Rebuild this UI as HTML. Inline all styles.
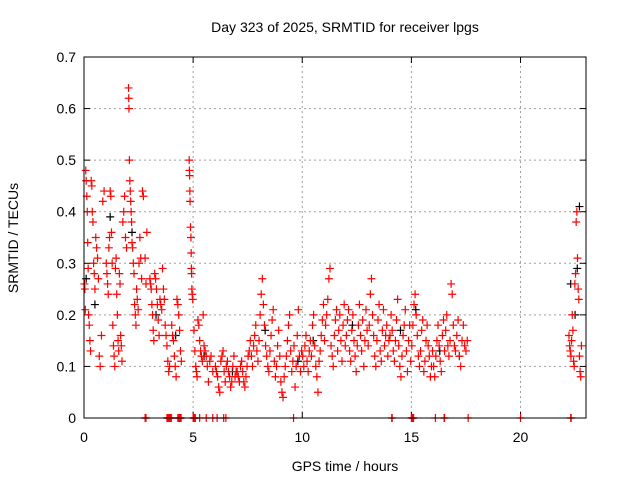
<!DOCTYPE html>
<html><head><meta charset="utf-8"><style>
body{margin:0;background:#fff}
svg{display:block;font-family:"Liberation Sans",sans-serif}
</style></head><body>
<svg id="chart" width="640" height="480" viewBox="0 0 640 480">
<rect width="640" height="480" fill="#fff"/>
<text x="345" y="32" font-size="14" text-anchor="middle">Day 323 of 2025, SRMTID for receiver lpgs</text>
<text x="345" y="471" font-size="14" text-anchor="middle">GPS time / hours</text>
<text x="18" y="238" font-size="14" text-anchor="middle" transform="rotate(-90 18 238)">SRMTID / TECUs</text>
<g id="grid"></g>
<g id="ticks"></g>
<g id="black"></g>
<g id="red"></g>
<rect x="84" y="57" width="502" height="361" fill="none" stroke="#000" stroke-width="1"/>
</svg>
<script>
const xTicks=[0,5,10,15,20];
const yTicks=[0,0.1,0.2,0.3,0.4,0.5,0.6,0.7];
const yTickLabels=["0","0.1","0.2","0.3","0.4","0.5","0.6","0.7"];
const redT=[
0.02,0.04,0.06,0.08,0.10,0.13,0.15,0.17,0.19,0.21,0.24,0.27,0.30,0.33,0.36,0.38,0.41,0.44,0.47,0.50,0.54,0.58,0.62,0.66,0.70,0.74,0.80,0.86,0.92,
1.02,1.05,1.08,1.11,1.14,1.17,1.20,1.23,1.26,1.29,1.32,1.35,1.38,1.41,1.44,1.47,1.50,1.53,1.56,1.59,1.62,1.65,1.68,1.71,1.74,1.78,1.82,1.86,1.90,1.95,
2.04,2.05,2.06,2.08,2.10,2.12,2.14,2.16,2.18,2.20,2.23,2.26,2.29,2.32,2.35,2.38,2.41,2.44,2.48,2.52,2.56,2.60,2.64,2.68,2.72,2.80,2.84,2.88,
3.02,3.05,3.08,3.11,3.14,3.17,3.20,3.24,3.28,3.32,3.36,3.40,3.44,3.48,3.52,3.56,3.60,3.64,3.68,3.72,3.76,3.80,3.84,3.88,3.92,
4.02,4.06,4.10,4.14,4.18,4.22,4.26,4.30,4.34,4.38,4.42,4.46,4.82,4.83,4.84,4.85,4.86,4.88,4.90,4.91,4.92,4.93,4.94,4.96,4.98,
5.04,5.08,5.12,5.15,5.18,5.22,5.26,5.30,5.34,5.38,5.42,5.46,5.50,5.55,5.60,5.65,5.70,5.76,5.82,5.90,
6.02,6.07,6.12,6.17,6.22,6.27,6.32,6.37,6.42,6.47,6.52,6.57,6.62,6.67,6.72,6.77,6.82,6.87,6.92,6.97,
7.02,7.07,7.12,7.17,7.22,7.27,7.32,7.37,7.42,7.47,7.52,7.57,7.62,7.67,7.72,7.77,7.82,7.87,7.92,7.97,
8.02,8.07,8.12,8.17,8.22,8.27,8.32,8.37,8.42,8.47,8.52,8.57,8.62,8.67,8.72,8.77,8.82,8.87,8.92,8.97,
9.02,9.07,9.12,9.17,9.22,9.27,9.32,9.37,9.42,9.47,9.52,9.57,9.62,9.67,9.72,9.77,9.82,9.87,9.92,9.97,
10.02,10.07,10.12,10.17,10.22,10.27,10.32,10.37,10.42,10.47,10.52,10.57,10.62,10.67,10.72,10.77,10.82,10.87,10.92,10.97,
11.02,11.07,11.12,11.17,11.22,11.27,11.32,11.37,11.42,11.47,11.52,11.57,11.62,11.67,11.72,11.77,11.82,11.87,11.92,11.97,
12.02,12.07,12.12,12.17,12.22,12.27,12.32,12.37,12.42,12.47,12.52,12.57,12.62,12.67,12.72,12.77,12.82,12.87,12.92,12.97,
13.02,13.07,13.12,13.17,13.22,13.27,13.32,13.37,13.42,13.47,13.52,13.57,13.62,13.67,13.72,13.77,13.82,13.87,13.92,13.97,
14.02,14.07,14.12,14.17,14.22,14.27,14.32,14.37,14.42,14.47,14.52,14.57,14.62,14.67,14.72,14.77,14.82,14.87,14.92,14.97,
15.02,15.07,15.12,15.17,15.22,15.27,15.32,15.37,15.42,15.47,15.52,15.57,15.62,15.67,15.72,15.77,15.82,15.87,15.92,15.97,
16.02,16.07,16.12,16.17,16.22,16.27,16.32,16.37,16.42,16.47,16.52,16.57,16.62,16.67,16.72,16.77,16.82,16.87,16.92,16.97,
17.02,17.08,17.14,17.20,17.26,17.32,17.38,17.44,17.50,17.56,
22.22,22.25,22.28,22.31,22.34,22.37,22.40,22.43,22.46,22.49,22.52,22.55,22.58,22.61,22.64,22.67,22.70,22.73,22.76,22.79,
2.80,2.82,2.84,3.80,3.82,3.85,3.88,3.90,3.93,3.95,3.98,4.00,4.30,4.33,4.35,4.38,4.40,4.43,4.45,5.00,5.03,5.05,5.08,5.10,5.30,5.60,5.90,6.10,6.40,6.50,9.60,14.10,14.12,15.00,15.03,15.05,15.08,15.10,16.10,16.50,16.52,17.60,20.00,22.30,22.32
];
const redV=[
0.26,0.25,0.21,0.48,0.46,0.43,0.40,0.34,0.29,0.20,0.18,0.15,0.13,0.46,0.45,0.40,0.38,0.30,0.28,0.25,0.35,0.33,0.31,0.27,0.12,0.10,0.16,0.42,0.44,
0.30,0.28,0.26,0.24,0.33,0.35,0.44,0.43,0.36,0.30,0.18,0.14,0.12,0.10,0.29,0.31,0.24,0.20,0.15,0.13,0.28,0.26,0.16,0.14,0.11,0.38,0.40,0.43,0.35,0.33,
0.64,0.62,0.60,0.50,0.46,0.44,0.42,0.40,0.38,0.34,0.33,0.30,0.28,0.22,0.20,0.18,0.25,0.23,0.21,0.30,0.35,0.31,0.27,0.44,0.43,0.31,0.26,0.36,
0.27,0.26,0.25,0.22,0.20,0.17,0.15,0.28,0.27,0.25,0.22,0.19,0.16,0.23,0.22,0.21,0.29,0.25,0.23,0.18,0.16,0.14,0.11,0.09,0.10,
0.18,0.16,0.15,0.12,0.10,0.08,0.23,0.22,0.20,0.17,0.13,0.11,0.50,0.48,0.47,0.44,0.42,0.37,0.35,0.32,0.29,0.28,0.25,0.24,0.23,
0.17,0.13,0.10,0.09,0.08,0.19,0.18,0.15,0.13,0.12,0.11,0.20,0.14,0.13,0.12,0.10,0.07,0.11,0.12,0.09,
0.10,0.09,0.08,0.06,0.05,0.11,0.12,0.13,0.09,0.07,0.10,0.11,0.09,0.08,0.06,0.07,0.10,0.12,0.08,0.09,
0.09,0.08,0.07,0.10,0.11,0.09,0.07,0.06,0.08,0.10,0.12,0.13,0.15,0.12,0.10,0.14,0.16,0.18,0.13,0.11,
0.15,0.20,0.24,0.27,0.22,0.18,0.14,0.12,0.10,0.09,0.13,0.16,0.19,0.21,0.11,0.08,0.10,0.14,0.17,0.12,
0.07,0.05,0.04,0.08,0.10,0.12,0.15,0.18,0.20,0.13,0.09,0.11,0.14,0.06,0.10,0.16,0.21,0.12,0.09,0.13,
0.12,0.10,0.14,0.16,0.11,0.09,0.13,0.15,0.12,0.18,0.20,0.14,0.10,0.08,0.05,0.11,0.13,0.16,0.19,0.22,
0.15,0.18,0.20,0.23,0.27,0.29,0.14,0.12,0.10,0.16,0.19,0.21,0.13,0.17,0.20,0.15,0.11,0.18,0.22,0.14,
0.16,0.19,0.21,0.13,0.11,0.17,0.20,0.15,0.12,0.09,0.14,0.18,0.22,0.16,0.13,0.19,0.10,0.15,0.21,0.17,
0.14,0.18,0.24,0.27,0.20,0.16,0.12,0.10,0.15,0.19,0.22,0.13,0.11,0.17,0.21,0.14,0.16,0.18,0.12,0.15,
0.16,0.20,0.17,0.13,0.11,0.15,0.19,0.23,0.14,0.10,0.08,0.12,0.16,0.18,0.21,0.13,0.09,0.15,0.18,0.11,
0.14,0.18,0.22,0.24,0.20,0.16,0.12,0.10,0.13,0.17,0.19,0.09,0.11,0.15,0.18,0.14,0.12,0.08,0.10,0.13,
0.10,0.08,0.12,0.15,0.18,0.14,0.11,0.09,0.16,0.19,0.13,0.17,0.20,0.14,0.12,0.15,0.26,0.24,0.18,0.14,
0.13,0.16,0.19,0.12,0.10,0.15,0.18,0.14,0.13,0.15,
0.16,0.14,0.13,0.12,0.15,0.20,0.17,0.11,0.10,0.26,0.28,0.38,0.40,0.31,0.25,0.23,0.12,0.09,0.08,0.14,
0,0,0,0,0,0,0,0,0,0,0,0,0,0,0,0,0,0,0,0,0,0,0,0,0,0,0,0,0,0,0,0,0,0,0,0,0,0,0,0,0,0,0,0,0
];
const blackT=[0.1,0.5,1.2,2.2,3.3,4.2,5.5,6.8,8.3,9.8,10.5,12.3,14.5,15.2,16.3,17.2,22.3,22.5,22.6,22.7];
const blackV=[0.27,0.22,0.39,0.36,0.20,0.16,0.12,0.09,0.17,0.11,0.15,0.18,0.17,0.21,0.13,0.12,0.26,0.20,0.29,0.41];

const X0=84,X1=586,Y0=418,Y1=57,XMAX=23,YMAX=0.7;
const xs=t=>X0+(X1-X0)*t/XMAX;
const ys=v=>Y0-(Y0-Y1)*v/YMAX;
const NS="http://www.w3.org/2000/svg";
function mk(tag,attrs,parent){const e=document.createElementNS(NS,tag);for(const k in attrs)e.setAttribute(k,attrs[k]);parent.appendChild(e);return e;}
const grid=document.getElementById('grid'),ticks=document.getElementById('ticks');
xTicks.forEach(t=>{const x=xs(t);
 if(t>0){const g=mk('line',{x1:x,y1:Y0,x2:x,y2:Y1,stroke:'#a0a0a0','stroke-dasharray':'2,3'},grid);
 
 }
 mk('line',{x1:x,y1:Y0,x2:x,y2:Y0-6,stroke:'#000'},ticks);
 mk('line',{x1:x,y1:Y1,x2:x,y2:Y1+6,stroke:'#000'},ticks);
 const l=mk('text',{x:x,y:Y0+24,'font-size':14,'text-anchor':'middle'},ticks);l.textContent=t;
 
 
});
yTicks.forEach((v,i)=>{const y=ys(v);
 if(v>0&&v<YMAX){const g=mk('line',{x1:X0,y1:y,x2:X1,y2:y,stroke:'#a0a0a0','stroke-dasharray':'2,3'},grid);
 
 }
 mk('line',{x1:X0,y1:y,x2:X0+6,y2:y,stroke:'#000'},ticks);
 mk('line',{x1:X1,y1:y,x2:X1-6,y2:y,stroke:'#000'},ticks);
 const l=mk('text',{x:X0-8,y:y+5,'font-size':14,'text-anchor':'end'},ticks);l.textContent=yTickLabels[i];
 
 
});
function plus(g,t,v,color,name){const x=xs(t),y=ys(v);
 const p=mk('path',{d:`M${x-4},${y}H${x+4}M${x},${y-4}V${y+4}`,stroke:color,'stroke-width':1.2,fill:'none'},g);
 
 }
const gb=document.getElementById('black'),gr=document.getElementById('red');
blackT.forEach((t,i)=>plus(gb,t,blackV[i],'#000','black-point'));
redT.forEach((t,i)=>plus(gr,t,redV[i],'#f00','red-point'));
</script>
</body></html>
